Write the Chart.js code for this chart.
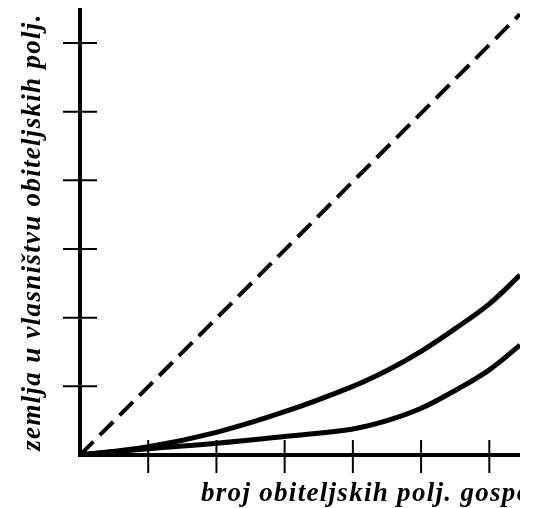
<!DOCTYPE html>
<html lang="hr">
<head>
  <meta charset="UTF-8" />
  <title>Lorenzova krivulja</title>
  <script src="https://cdn.jsdelivr.net/npm/chart.js"></script>
  <style>
    body { margin: 0; background: #fff; }
    #wrap { width: 536px; height: 508px; }
    canvas { display: block; }
  </style>
</head>
<body>
  <div id="wrap"><canvas id="chart" width="520" height="508"></canvas></div>

  <script>
    // data (axis units = tick steps)
    const xValues = [0, 1, 2, 3, 4, 4.5, 5, 5.5, 6, 6.45];
    const upperCurve = [0, 0.12, 0.33, 0.63, 1.0, 1.23, 1.51, 1.84, 2.20, 2.62];
    const lowerCurve = [0, 0.09, 0.17, 0.27, 0.38, 0.50, 0.68, 0.94, 1.24, 1.60];
    const equalityLine = [[0, 0], [6.45, 6.42]];
    const tickSteps = [1, 2, 3, 4, 5, 6];

    const yTitle = "zemlja u vlasništvu obiteljskih polj.";
    const xTitle = "broj obiteljskih polj. gospodarstava";
    const labelFont = "italic bold 27px 'Liberation Serif', 'DejaVu Serif', serif";

    const toPoints = ys => xValues.map((x, i) => ({ x: x, y: ys[i] }));

    // tick marks crossing the axes, plus axis titles
    const crossTicks = {
      id: 'crossTicks',
      afterDraw(chart) {
        const ctx = chart.ctx;
        const xs = chart.scales.x, ys = chart.scales.y;
        const x0 = xs.getPixelForValue(0), y0 = ys.getPixelForValue(0);
        ctx.save();
        ctx.strokeStyle = '#000';
        ctx.lineWidth = 2;
        tickSteps.forEach(v => {
          const py = ys.getPixelForValue(v);
          ctx.beginPath(); ctx.moveTo(x0 - 17, py); ctx.lineTo(x0 + 17, py); ctx.stroke();
          const px = xs.getPixelForValue(v);
          ctx.beginPath(); ctx.moveTo(px, y0 - 15); ctx.lineTo(px, y0 + 18); ctx.stroke();
        });

        ctx.fillStyle = '#000';
        ctx.font = labelFont;
        ctx.letterSpacing = '1.3px';
        ctx.textAlign = 'left';
        ctx.textBaseline = 'alphabetic';
        ctx.fillText(xTitle, 201, 501);

        ctx.translate(40, 232);
        ctx.rotate(-Math.PI / 2);
        ctx.textAlign = 'center';
        ctx.fillText(yTitle, 0, 0);
        ctx.restore();
      }
    };

    new Chart(document.getElementById('chart'), {
      type: 'line',
      data: {
        datasets: [
          {
            data: equalityLine.map(p => ({ x: p[0], y: p[1] })),
            borderColor: '#000',
            borderWidth: 4,
            borderDash: [19, 9],
            pointRadius: 0
          },
          {
            data: toPoints(upperCurve),
            borderColor: '#000',
            borderWidth: 5,
            tension: 0.4,
            pointRadius: 0
          },
          {
            data: toPoints(lowerCurve),
            borderColor: '#000',
            borderWidth: 5,
            tension: 0.4,
            pointRadius: 0
          }
        ]
      },
      options: {
        responsive: false,
        animation: false,
        layout: { padding: { left: 72, top: 10, right: 0, bottom: 45 } },
        plugins: { legend: { display: false }, tooltip: { enabled: false } },
        scales: {
          x: {
            type: 'linear',
            min: 0,
            max: 6.45,
            ticks: { display: false },
            grid: { display: false },
            border: { display: true, color: '#000', width: 4 }
          },
          y: {
            min: 0,
            max: 6.48,
            ticks: { display: false },
            grid: { display: false },
            border: { display: true, color: '#000', width: 4 }
          }
        }
      },
      plugins: [crossTicks]
    });
  </script>
</body>
</html>
